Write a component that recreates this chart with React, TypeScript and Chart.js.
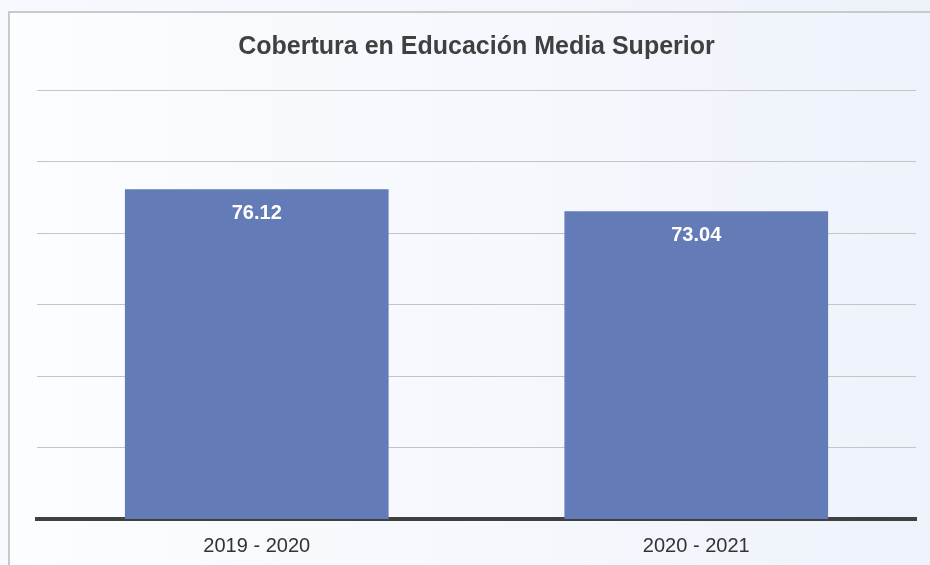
import React, { useEffect, useRef } from "react";
import { Chart, registerables } from "chart.js";

Chart.register(...registerables);

const TITLE = "Cobertura en Educación Media Superior";
const categories = ["2019 - 2020", "2020 - 2021"];
const coverage = [76.12, 73.04];
const yMin = 30;
const yMax = 90;
const yStep = 10;

const FONT = "'Liberation Sans', Arial, Helvetica, sans-serif";

const valueLabels = {
  id: "valueLabels",
  afterDatasetsDraw(chart: any) {
    const ctx = chart.ctx;
    const meta = chart.getDatasetMeta(0);
    const ds = chart.data.datasets[0];
    ctx.save();
    ctx.fillStyle = "#ffffff";
    ctx.font = `bold 20px ${FONT}`;
    ctx.textAlign = "center";
    ctx.textBaseline = "middle";
    meta.data.forEach((bar: any, i: number) => {
      const v = ds.data[i] as number;
      ctx.fillText(v.toFixed(2), bar.x, bar.y + 24);
    });
    ctx.restore();
  },
};

export default function App() {
  const ref = useRef<HTMLCanvasElement | null>(null);

  useEffect(() => {
    if (!ref.current) return;
    const chart = new Chart(ref.current, {
      type: "bar",
      data: {
        labels: categories,
        datasets: [
          {
            data: coverage,
            backgroundColor: "#637bb7",
            borderWidth: 0,
            barPercentage: 0.6,
            categoryPercentage: 1,
          },
        ],
      },
      options: {
        animation: false,
        responsive: false,
        maintainAspectRatio: false,
        layout: { padding: { left: 37, right: 14, top: 0, bottom: 8 } },
        plugins: {
          legend: { display: false },
          tooltip: { enabled: false },
          title: {
            display: true,
            text: TITLE,
            color: "#404040",
            font: { family: FONT, size: 25, weight: "bold" },
            padding: { top: 32, bottom: 28 },
          },
        },
        scales: {
          x: {
            grid: { display: false, drawTicks: false },
            border: { display: true, color: "#404040", width: 4 },
            ticks: {
              color: "#333333",
              font: { family: FONT, size: 20 },
              padding: 15,
            },
          },
          y: {
            min: yMin,
            max: yMax,
            grid: { color: "#c4c4c4", lineWidth: 1, drawTicks: false },
            border: { display: false },
            ticks: { display: false, stepSize: yStep },
          },
        },
      },
      plugins: [valueLabels],
    });
    return () => chart.destroy();
  }, []);

  return (
    <div
      style={{
        position: "fixed",
        left: 0,
        top: 0,
        width: 930,
        height: 565,
        overflow: "hidden",
        background: "linear-gradient(90deg, #f6f9fe 0%, #f3f6fc 60%, #edf1fa 100%)",
      }}
    >
      <div
        style={{
          position: "absolute",
          left: 8,
          top: 11,
          width: 940,
          height: 570,
          borderLeft: "2px solid #c9c9c9",
          borderTop: "2px solid #c9c9c9",
          background: "linear-gradient(90deg, #fbfdff 0%, #f4f7fc 60%, #eef2fb 100%)",
        }}
      />
      <canvas
        ref={ref}
        width={930}
        height={581}
        style={{ position: "absolute", left: 0, top: 0, width: 930, height: 581 }}
      />
    </div>
  );
}
